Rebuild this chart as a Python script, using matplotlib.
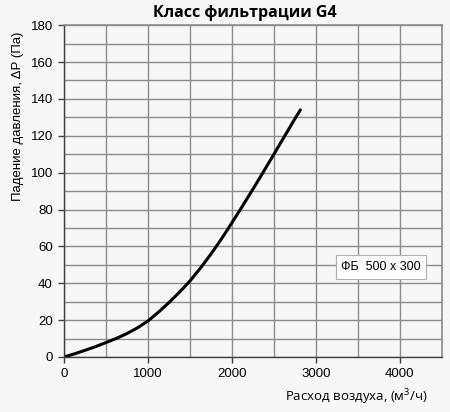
import numpy as np
import matplotlib.pyplot as plt
from matplotlib.ticker import MultipleLocator

# air flow (m3/h) vs pressure drop (Pa)
flow = [0, 125, 250, 375, 500, 625, 750, 875, 1000, 1125, 1250, 1375, 1500,
        1625, 1750, 1875, 2000, 2125, 2250, 2375, 2500, 2625, 2750, 2815]
dp = [0, 1.7, 3.6, 5.6, 7.8, 10.1, 12.7, 15.8, 19.5, 24.3, 29.5, 35.1, 41.2,
      48.2, 55.8, 64, 72.8, 81.8, 91, 100.4, 110, 119.6, 129.2, 134]

title = 'Класс фильтрации G4'
xlabel = 'Расход воздуха, (м$^3$/ч)'
ylabel = 'Падение давления, ΔP (Па)'
legend_label = 'ФБ  500 x 300'

bg = '#f7f7f7'
plt.rcParams['font.family'] = ['Liberation Sans', 'DejaVu Sans']
plt.rcParams['mathtext.default'] = 'regular'

fig = plt.figure(figsize=(4.5, 4.12), dpi=100, facecolor=bg)
ax = fig.add_axes([0.142, 0.1335, 0.840, 0.8055])
ax.set_facecolor(bg)

ax.plot(flow, dp, color='black', lw=2.2, solid_capstyle='round', solid_joinstyle='round')

ax.set_xlim(0, 4500)
ax.set_ylim(0, 180)
ax.xaxis.set_major_locator(MultipleLocator(1000))
ax.xaxis.set_minor_locator(MultipleLocator(500))
ax.yaxis.set_major_locator(MultipleLocator(20))
ax.yaxis.set_minor_locator(MultipleLocator(10))
ax.grid(which='both', color='#8c8c8c', lw=1.0)
ax.set_axisbelow(True)

for s in ['left', 'bottom']:
    ax.spines[s].set_color('#404040')
    ax.spines[s].set_linewidth(1.0)
for s in ['top', 'right']:
    ax.spines[s].set_color('#8c8c8c')
    ax.spines[s].set_linewidth(1.2)

ax.tick_params(which='major', length=4, width=1, color='#404040', labelsize=9.5, pad=4)
ax.tick_params(which='minor', length=0)

fig.text(0.545, 0.968, title, ha='center', va='center', fontsize=11.5,
         fontweight='bold', family=['Open Sans', 'DejaVu Sans'])
fig.text(0.951, 0.036, xlabel, ha='right', va='center', fontsize=9.5,
         family=['Open Sans', 'DejaVu Sans'])
fig.text(0.04, 0.718, ylabel, ha='center', va='center', rotation=90, fontsize=9.5)

ax.text(0.839, 0.271, legend_label, transform=ax.transAxes, ha='center', va='center',
        fontsize=9, bbox=dict(boxstyle='square,pad=0.45', fc='white', ec='#b0b0b0', lw=0.8))

fig.savefig('out.png', dpi=100, facecolor=bg)
